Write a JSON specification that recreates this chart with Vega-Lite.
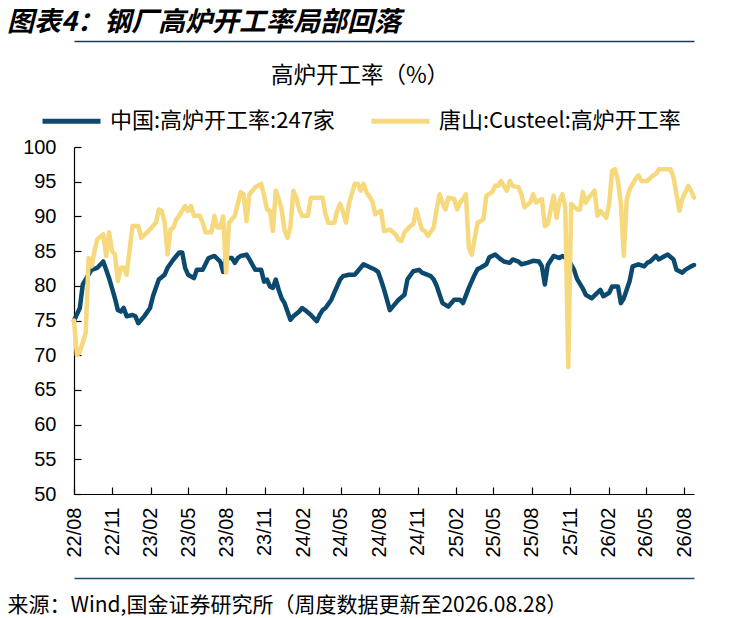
{
"$schema":"https://vega.github.io/schema/vega-lite/v6.json",
"width":620,"height":347,
"autosize":{"type":"none"},
"padding":{"left":74,"top":147,"right":51,"bottom":124},
"background":"white",
"config":{"view":{"stroke":null},"font":"Noto Sans CJK SC"},
"title":{"text":"图表4：钢厂高炉开工率局部回落","anchor":"start","frame":"group","fontSize":27,"fontWeight":"bold","fontStyle":"italic","font":"Noto Sans CJK SC","color":"black","dx":-67,"offset":4},
"datasets":{
"cn":[
{"d":"2022-08-05","v":75.0},{"d":"2022-08-19","v":76.8},{"d":"2022-08-26","v":80.2},{"d":"2022-09-09","v":81.6},{"d":"2022-09-16","v":82.3},{"d":"2022-09-30","v":82.6},{"d":"2022-10-14","v":83.5},{"d":"2022-10-21","v":82.3},{"d":"2022-10-28","v":81.1},{"d":"2022-11-11","v":78.2},{"d":"2022-11-18","v":76.5},{"d":"2022-11-25","v":76.3},{"d":"2022-12-02","v":76.8},{"d":"2022-12-09","v":75.6},{"d":"2022-12-23","v":75.8},{"d":"2022-12-30","v":75.6},
{"d":"2023-01-06","v":74.6},{"d":"2023-01-20","v":75.6},{"d":"2023-02-03","v":76.8},{"d":"2023-02-10","v":78.5},{"d":"2023-02-24","v":80.9},{"d":"2023-03-10","v":81.6},{"d":"2023-03-17","v":82.6},{"d":"2023-03-31","v":83.8},{"d":"2023-04-14","v":84.8},{"d":"2023-04-21","v":84.8},{"d":"2023-04-28","v":82.6},{"d":"2023-05-05","v":81.6},{"d":"2023-05-19","v":81.1},{"d":"2023-05-26","v":82.3},{"d":"2023-06-09","v":82.3},{"d":"2023-06-23","v":84.0},{"d":"2023-07-07","v":84.3},{"d":"2023-07-21","v":83.5},{"d":"2023-07-28","v":82.0},{"d":"2023-08-04","v":84.0},{"d":"2023-08-18","v":84.0},{"d":"2023-08-25","v":83.3},{"d":"2023-09-01","v":84.0},{"d":"2023-09-08","v":84.3},{"d":"2023-09-22","v":84.5},{"d":"2023-09-29","v":83.8},{"d":"2023-10-13","v":82.3},{"d":"2023-10-27","v":82.3},{"d":"2023-11-03","v":80.6},{"d":"2023-11-10","v":80.9},{"d":"2023-11-17","v":79.9},{"d":"2023-11-24","v":79.7},{"d":"2023-12-01","v":80.9},{"d":"2023-12-08","v":79.4},{"d":"2023-12-15","v":78.2},{"d":"2023-12-22","v":77.5},{"d":"2023-12-29","v":76.3},
{"d":"2024-01-05","v":75.1},{"d":"2024-01-12","v":75.6},{"d":"2024-01-26","v":76.3},{"d":"2024-02-02","v":76.8},{"d":"2024-02-09","v":76.5},{"d":"2024-02-23","v":75.8},{"d":"2024-03-08","v":74.9},{"d":"2024-03-15","v":75.8},{"d":"2024-03-22","v":76.5},{"d":"2024-03-29","v":76.8},{"d":"2024-04-12","v":78.0},{"d":"2024-04-19","v":79.0},{"d":"2024-05-03","v":80.9},{"d":"2024-05-10","v":81.4},{"d":"2024-05-24","v":81.6},{"d":"2024-06-07","v":81.6},{"d":"2024-06-21","v":82.6},{"d":"2024-06-28","v":83.1},{"d":"2024-07-12","v":82.7},{"d":"2024-07-26","v":82.3},{"d":"2024-08-02","v":82.0},{"d":"2024-08-09","v":80.8},{"d":"2024-08-16","v":79.5},{"d":"2024-08-23","v":78.0},{"d":"2024-08-30","v":76.5},{"d":"2024-09-13","v":77.5},{"d":"2024-09-20","v":78.0},{"d":"2024-10-04","v":78.7},{"d":"2024-10-11","v":80.9},{"d":"2024-10-25","v":82.1},{"d":"2024-11-08","v":82.3},{"d":"2024-11-15","v":81.9},{"d":"2024-12-06","v":81.4},{"d":"2024-12-13","v":80.9},{"d":"2024-12-20","v":80.0},
{"d":"2025-01-03","v":77.5},{"d":"2025-01-17","v":77.0},{"d":"2025-01-31","v":78.0},{"d":"2025-02-14","v":78.0},{"d":"2025-02-21","v":77.5},{"d":"2025-03-07","v":79.7},{"d":"2025-03-21","v":81.6},{"d":"2025-03-28","v":82.4},{"d":"2025-04-04","v":82.6},{"d":"2025-04-18","v":83.1},{"d":"2025-04-25","v":84.1},{"d":"2025-05-09","v":84.5},{"d":"2025-05-23","v":83.8},{"d":"2025-05-30","v":83.5},{"d":"2025-06-13","v":83.3},{"d":"2025-06-20","v":83.8},{"d":"2025-07-04","v":83.5},{"d":"2025-07-11","v":83.1},{"d":"2025-07-25","v":83.3},{"d":"2025-08-08","v":83.6},{"d":"2025-08-22","v":83.5},{"d":"2025-08-29","v":82.8},{"d":"2025-09-05","v":80.2},{"d":"2025-09-12","v":83.0},{"d":"2025-09-26","v":84.3},{"d":"2025-10-10","v":84.0},{"d":"2025-10-17","v":84.3},{"d":"2025-10-31","v":83.8},{"d":"2025-11-14","v":82.3},{"d":"2025-11-21","v":81.0},{"d":"2025-12-05","v":79.6},{"d":"2025-12-12","v":78.7},{"d":"2025-12-26","v":78.2},
{"d":"2026-01-09","v":79.0},{"d":"2026-01-16","v":79.4},{"d":"2026-01-23","v":78.5},{"d":"2026-02-06","v":79.0},{"d":"2026-02-13","v":79.9},{"d":"2026-02-27","v":79.9},{"d":"2026-03-06","v":77.5},{"d":"2026-03-13","v":78.2},{"d":"2026-03-27","v":80.7},{"d":"2026-04-03","v":82.8},{"d":"2026-04-17","v":83.1},{"d":"2026-05-01","v":82.8},{"d":"2026-05-08","v":83.3},{"d":"2026-05-15","v":83.5},{"d":"2026-05-29","v":84.3},{"d":"2026-06-05","v":83.8},{"d":"2026-06-19","v":84.3},{"d":"2026-06-26","v":84.5},{"d":"2026-07-10","v":83.8},{"d":"2026-07-17","v":82.3},{"d":"2026-07-31","v":81.9},{"d":"2026-08-07","v":82.3},{"d":"2026-08-21","v":82.8},{"d":"2026-08-28","v":83.0}
],
"ts":[
{"d":"2022-08-05","v":75.0},{"d":"2022-08-12","v":70.0},{"d":"2022-08-19","v":70.5},{"d":"2022-09-02","v":73.2},{"d":"2022-09-09","v":84.0},{"d":"2022-09-16","v":82.8},{"d":"2022-09-23","v":85.0},{"d":"2022-09-30","v":86.7},{"d":"2022-10-14","v":87.4},{"d":"2022-10-21","v":84.3},{"d":"2022-10-28","v":87.7},{"d":"2022-11-04","v":85.0},{"d":"2022-11-11","v":84.5},{"d":"2022-11-18","v":80.7},{"d":"2022-11-25","v":82.6},{"d":"2022-12-02","v":82.6},{"d":"2022-12-09","v":81.6},{"d":"2022-12-23","v":88.6},
{"d":"2023-01-06","v":88.6},{"d":"2023-01-13","v":86.9},{"d":"2023-01-27","v":87.7},{"d":"2023-02-10","v":88.6},{"d":"2023-02-17","v":89.1},{"d":"2023-02-24","v":91.0},{"d":"2023-03-03","v":90.8},{"d":"2023-03-10","v":89.1},{"d":"2023-03-17","v":84.5},{"d":"2023-03-24","v":88.1},{"d":"2023-03-31","v":88.4},{"d":"2023-04-07","v":89.6},{"d":"2023-04-14","v":90.1},{"d":"2023-04-28","v":91.5},{"d":"2023-05-05","v":90.8},{"d":"2023-05-12","v":91.5},{"d":"2023-05-19","v":90.1},{"d":"2023-06-02","v":90.1},{"d":"2023-06-09","v":89.1},{"d":"2023-06-16","v":87.7},{"d":"2023-06-30","v":87.7},{"d":"2023-07-07","v":90.1},{"d":"2023-07-14","v":88.4},{"d":"2023-07-21","v":88.4},{"d":"2023-07-28","v":90.0},{"d":"2023-08-04","v":81.9},{"d":"2023-08-11","v":89.1},{"d":"2023-08-25","v":90.1},{"d":"2023-09-01","v":91.8},{"d":"2023-09-08","v":93.5},{"d":"2023-09-15","v":93.2},{"d":"2023-09-22","v":89.3},{"d":"2023-09-29","v":93.2},{"d":"2023-10-13","v":94.2},{"d":"2023-10-27","v":94.7},{"d":"2023-11-03","v":93.0},{"d":"2023-11-10","v":91.0},{"d":"2023-11-17","v":90.8},{"d":"2023-11-24","v":87.9},{"d":"2023-12-01","v":93.7},{"d":"2023-12-08","v":92.5},{"d":"2023-12-15","v":91.0},{"d":"2023-12-22","v":88.0},{"d":"2023-12-29","v":86.9},
{"d":"2024-01-05","v":88.5},{"d":"2024-01-12","v":93.7},{"d":"2024-01-19","v":92.7},{"d":"2024-01-26","v":91.0},{"d":"2024-02-02","v":90.1},{"d":"2024-02-16","v":90.1},{"d":"2024-02-23","v":92.7},{"d":"2024-03-08","v":92.7},{"d":"2024-03-22","v":92.7},{"d":"2024-03-29","v":90.3},{"d":"2024-04-05","v":89.1},{"d":"2024-04-19","v":89.1},{"d":"2024-04-26","v":90.8},{"d":"2024-05-03","v":91.8},{"d":"2024-05-10","v":90.6},{"d":"2024-05-17","v":89.1},{"d":"2024-05-24","v":91.8},{"d":"2024-06-07","v":94.7},{"d":"2024-06-14","v":94.7},{"d":"2024-06-21","v":93.7},{"d":"2024-06-28","v":94.7},{"d":"2024-07-05","v":93.5},{"d":"2024-07-19","v":92.2},{"d":"2024-07-26","v":90.3},{"d":"2024-08-02","v":90.6},{"d":"2024-08-09","v":90.8},{"d":"2024-08-16","v":87.9},{"d":"2024-08-30","v":88.1},{"d":"2024-09-13","v":87.4},{"d":"2024-09-20","v":86.6},{"d":"2024-09-27","v":86.5},{"d":"2024-10-04","v":87.7},{"d":"2024-10-18","v":88.6},{"d":"2024-10-25","v":88.9},{"d":"2024-11-01","v":91.0},{"d":"2024-11-08","v":89.5},{"d":"2024-11-15","v":88.1},{"d":"2024-11-22","v":87.9},{"d":"2024-11-29","v":87.2},{"d":"2024-12-13","v":88.4},{"d":"2024-12-20","v":91.0},{"d":"2024-12-27","v":93.2},
{"d":"2025-01-03","v":92.0},{"d":"2025-01-10","v":91.0},{"d":"2025-01-17","v":92.7},{"d":"2025-01-31","v":92.5},{"d":"2025-02-07","v":91.0},{"d":"2025-02-14","v":92.0},{"d":"2025-02-21","v":92.5},{"d":"2025-02-28","v":93.2},{"d":"2025-03-07","v":85.5},{"d":"2025-03-14","v":84.5},{"d":"2025-03-21","v":86.8},{"d":"2025-03-28","v":89.1},{"d":"2025-04-04","v":89.3},{"d":"2025-04-11","v":89.6},{"d":"2025-04-18","v":93.0},{"d":"2025-05-02","v":93.5},{"d":"2025-05-09","v":94.4},{"d":"2025-05-16","v":94.4},{"d":"2025-05-23","v":95.1},{"d":"2025-06-06","v":93.7},{"d":"2025-06-13","v":95.1},{"d":"2025-06-20","v":94.4},{"d":"2025-07-04","v":94.2},{"d":"2025-07-11","v":93.2},{"d":"2025-07-18","v":91.3},{"d":"2025-08-01","v":92.0},{"d":"2025-08-08","v":93.2},{"d":"2025-08-15","v":92.0},{"d":"2025-08-29","v":92.5},{"d":"2025-09-05","v":88.6},{"d":"2025-09-12","v":88.9},{"d":"2025-09-26","v":93.0},{"d":"2025-10-03","v":89.8},{"d":"2025-10-10","v":92.2},{"d":"2025-10-17","v":93.2},{"d":"2025-10-24","v":91.3},{"d":"2025-10-31","v":68.3},{"d":"2025-11-07","v":91.8},{"d":"2025-11-21","v":91.0},{"d":"2025-11-28","v":91.0},{"d":"2025-12-05","v":93.5},{"d":"2025-12-12","v":92.0},{"d":"2025-12-19","v":92.7},
{"d":"2026-01-02","v":93.7},{"d":"2026-01-09","v":90.1},{"d":"2026-01-16","v":90.8},{"d":"2026-01-30","v":89.8},{"d":"2026-02-06","v":91.8},{"d":"2026-02-13","v":96.6},{"d":"2026-02-20","v":96.8},{"d":"2026-02-27","v":95.1},{"d":"2026-03-06","v":91.8},{"d":"2026-03-13","v":84.3},{"d":"2026-03-20","v":92.5},{"d":"2026-03-27","v":93.9},{"d":"2026-04-10","v":95.4},{"d":"2026-04-17","v":95.9},{"d":"2026-04-24","v":95.1},{"d":"2026-05-08","v":95.1},{"d":"2026-05-22","v":95.9},{"d":"2026-05-29","v":96.1},{"d":"2026-06-05","v":96.8},{"d":"2026-06-19","v":96.8},{"d":"2026-07-03","v":96.8},{"d":"2026-07-10","v":95.6},{"d":"2026-07-17","v":93.2},{"d":"2026-07-24","v":90.8},{"d":"2026-07-31","v":92.5},{"d":"2026-08-14","v":94.4},{"d":"2026-08-21","v":93.7},{"d":"2026-08-28","v":92.7}
]
},
"encoding":{
 "y":{"field":"v","type":"quantitative","scale":{"domain":[50,100],"nice":false,"zero":false},
  "axis":{"title":null,"grid":false,"values":[50,55,60,65,70,75,80,85,90,95,100],"labelOverlap":false,"labelFontSize":20,"labelFont":"Liberation Sans","labelColor":"black","tickSize":-7,"tickColor":"black","tickWidth":1.2,"domainColor":"black","domainWidth":1.2,"labelPadding":25}}
},
"layer":[
{"data":{"name":"cn"},
 "mark":{"type":"line","strokeWidth":4.5,"strokeCap":"round","strokeJoin":"round"},
 "encoding":{
  "x":{"field":"d","type":"temporal",
   "scale":{"type":"utc","domain":[{"year":2022,"month":8,"date":5,"utc":true},{"year":2026,"month":8,"date":28,"utc":true}]},
   "axis":{"orient":"bottom","title":null,"grid":false,"format":"%y/%m","labelAngle":270,"labelFontSize":20,"labelFont":"Liberation Sans","labelColor":"black","tickSize":-7,"tickColor":"black","tickWidth":1.2,"domainColor":"black","domainWidth":1.2,"labelPadding":20,"labelFlush":false,"labelOverlap":false,
    "values":[{"year":2022,"month":8,"date":5,"utc":true},{"year":2022,"month":11,"date":5,"utc":true},{"year":2023,"month":2,"date":5,"utc":true},{"year":2023,"month":5,"date":5,"utc":true},{"year":2023,"month":8,"date":5,"utc":true},{"year":2023,"month":11,"date":5,"utc":true},{"year":2024,"month":2,"date":5,"utc":true},{"year":2024,"month":5,"date":5,"utc":true},{"year":2024,"month":8,"date":5,"utc":true},{"year":2024,"month":11,"date":5,"utc":true},{"year":2025,"month":2,"date":5,"utc":true},{"year":2025,"month":5,"date":5,"utc":true},{"year":2025,"month":8,"date":5,"utc":true},{"year":2025,"month":11,"date":5,"utc":true},{"year":2026,"month":2,"date":5,"utc":true},{"year":2026,"month":5,"date":5,"utc":true},{"year":2026,"month":8,"date":5,"utc":true}]}},
  "color":{"datum":"中国:高炉开工率:247家",
   "scale":{"domain":["中国:高炉开工率:247家","唐山:Custeel:高炉开工率"],"range":["#0b4a6e","#f5d97c"]},
   "legend":{"orient":"none","legendX":-34,"legendY":-82,"direction":"horizontal","title":"高炉开工率（%）","titleOrient":"top","titleAnchor":"middle","titleFontSize":22.5,"titleFont":"Noto Sans CJK SC","titleFontWeight":"normal","titleColor":"black","titlePadding":2,"labelFontSize":22,"labelFont":"Noto Sans CJK SC","labelColor":"black","labelLimit":400,"symbolType":"stroke","symbolSize":3364,"symbolStrokeWidth":5,"labelOffset":7,"columnPadding":26}}
 }},
{"data":{"name":"cn"},
 "mark":{"type":"line","opacity":0},
 "encoding":{
  "x":{"field":"d","type":"temporal",
   "axis":{"orient":"bottom","offset":84,"labels":false,"ticks":false,"grid":false,"domainColor":"#1e4e6e","domainWidth":1.5,
    "title":"来源：Wind,国金证券研究所（周度数据更新至2026.08.28）","titleFont":"Noto Sans CJK SC","titleFontSize":21,"titleFontWeight":"normal","titleColor":"black","titleX":-67,"titleY":33,"titleAlign":"left","titleAnchor":"start","titleBaseline":"alphabetic"}}
 }},
{"data":{"name":"ts"},
 "mark":{"type":"line","strokeWidth":4.5,"strokeCap":"round","strokeJoin":"round"},
 "encoding":{
  "x":{"field":"d","type":"temporal",
   "axis":{"orient":"top","offset":106,"labels":false,"ticks":false,"grid":false,"domainColor":"#1b3a5a","domainWidth":1.5,"title":null}},
  "color":{"datum":"唐山:Custeel:高炉开工率"}
 }}
],
"resolve":{"axis":{"x":"independent"}}
}
